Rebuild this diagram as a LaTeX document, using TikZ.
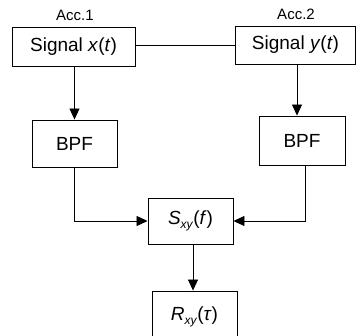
\documentclass[tikz,border=0pt]{standalone}
\usepackage{fontspec}
\setmainfont{Liberation Sans}
\usetikzlibrary{arrows.meta}
\begin{document}
\begin{tikzpicture}[x=1pt,y=1pt,
  blk/.style={draw,line width=0.9pt,inner sep=0pt,font=\fontsize{19}{21}\selectfont},
  conn/.style={line width=0.8pt},
  arr/.style={conn,-{Triangle[length=11pt,width=10pt]}},
  lbl/.style={font=\fontsize{15}{17}\selectfont,inner sep=0pt}]
\useasboundingbox (0,0) rectangle (356,335);
\clip (0,0) rectangle (356,335);
% y = 335 - ypx
\node[blk,minimum width=123pt,minimum height=39pt] (sx) at (73.5,288.5) {Signal \textit{x}(\textit{t})};
\node[blk,minimum width=120pt,minimum height=38pt] (sy) at (295.5,290) {Signal \textit{y}(\textit{t})};
\node[blk,minimum width=85pt,minimum height=47pt] (b1) at (74.5,191.5) {BPF};
\node[blk,minimum width=86pt,minimum height=49pt] (b2) at (302,194.5) {BPF};
\node[blk,minimum width=85pt,minimum height=46pt] (sxy) at (190.5,114) {\textit{S}\raisebox{-0.45ex}{\fontsize{12}{13}\selectfont\textit{xy}}(\textit{f})};
\node[blk,minimum width=85pt,minimum height=52pt] (rxy) at (194.5,18) {\textit{R}\raisebox{-0.45ex}{\fontsize{12}{13}\selectfont\textit{xy}}(\textit{τ})};
\node[lbl] (a1) at (75,320) {Acc.1};
\node[lbl] (a2) at (296,321) {Acc.2};
\draw[conn] (sy.west -| sx.east) -- (sy.west);
\draw[arr] (b1.north |- sx.south) -- (b1.north);
\draw[arr] ([xshift=1.5pt]sy.south) -- ([xshift=1.5pt]sy.south |- b2.north);
\draw[arr] (b1.south) |- (sxy.west);
\draw[arr] ([xshift=3pt]b2.south) |- (sxy.east);
\draw[arr] ([xshift=2.5pt]sxy.south) -- ([xshift=2.5pt]sxy.south |- rxy.north);
\end{tikzpicture}
\end{document}
